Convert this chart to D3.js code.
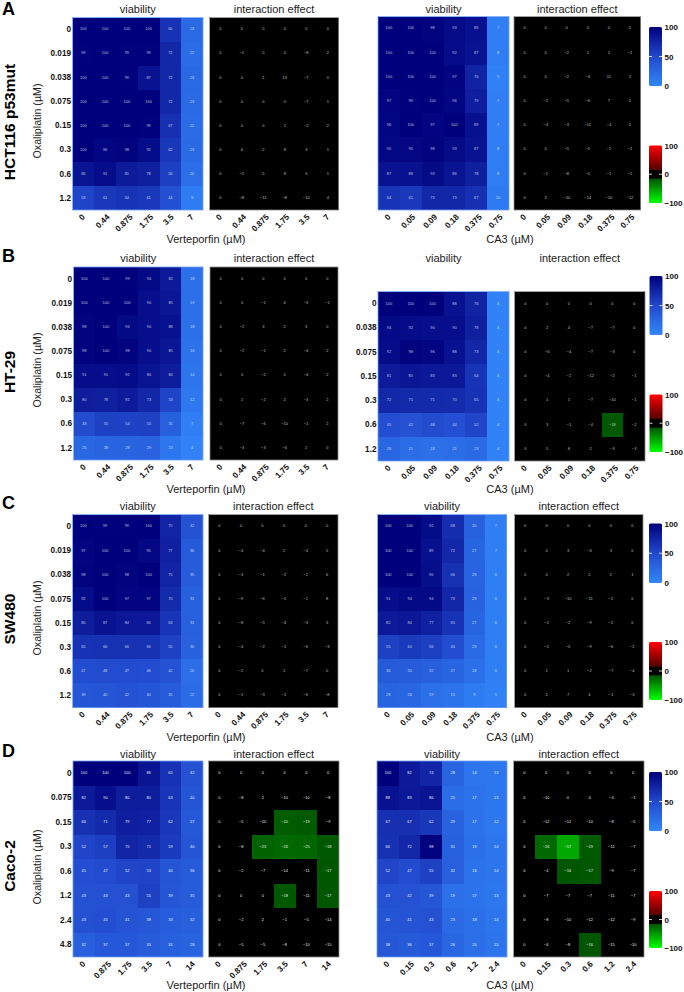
<!DOCTYPE html>
<html>
<head>
<meta charset="utf-8">
<script src="https://cdnjs.cloudflare.com/ajax/libs/d3/7.8.5/d3.min.js"></script>
<style>
  body { margin: 0; background: #fff; }
  svg { display: block; font-family: "Liberation Sans", Arial, sans-serif; }
</style>
</head>
<body>
<svg id="chart" width="684" height="992"></svg>
<script>
// concentrations
const oxaliA = ["0", "0.019", "0.038", "0.075", "0.15", "0.3", "0.6", "1.2"];
const oxaliB = ["0", "0.038", "0.075", "0.15", "0.3", "0.6", "1.2"];
const oxaliD = ["0", "0.075", "0.15", "0.3", "0.6", "1.2", "2.4", "4.8"];
const verte = ["0", "0.44", "0.875", "1.75", "3.5", "7"];
const verteD = ["0", "0.875", "1.75", "3.5", "7", "14"];
const ca3 = ["0", "0.05", "0.09", "0.18", "0.375", "0.75"];
const ca3D = ["0", "0.15", "0.3", "0.6", "1.2", "2.4"];

// HCT116 p53mut
const hctVerteViab = [
  [100, 100, 100, 100, 65, 24], [99, 100, 99, 99, 72, 22], [100, 100, 99, 87, 72, 24], [100, 100, 100, 100, 72, 23],
  [100, 100, 100, 99, 67, 22], [100, 96, 98, 92, 62, 23], [86, 91, 81, 78, 56, 20], [53, 61, 64, 61, 44, 9]];
const hctVerteInt = [
  [0, 0, 0, 0, 0, 0], [0, -1, 0, 0, -8, 2], [0, 0, 1, 13, -7, 0], [0, 0, 0, 0, -7, 1],
  [0, 0, 0, 1, -2, 2], [0, 4, 2, 8, 3, 1], [0, -5, 5, 8, 0, 1], [0, -8, -11, -8, -10, 4]];
const hctCa3Viab = [
  [100, 100, 98, 93, 89, 7], [100, 100, 100, 92, 87, 8], [100, 100, 100, 97, 76, 5], [97, 99, 100, 96, 79, 7],
  [96, 100, 97, 100, 89, 7], [95, 95, 98, 93, 87, 8], [87, 88, 93, 86, 78, 8], [64, 61, 73, 73, 67, 10]];
const hctCa3Int = [
  [0, 0, 0, 0, 0, 0], [0, 0, -2, 1, 2, -1], [0, 0, -2, -4, 11, 2], [0, -2, -5, -6, 7, 0],
  [0, -4, -3, -11, -4, 0], [0, 0, -5, -5, -2, -1], [0, -1, -8, -5, -1, -2], [0, 3, -10, -14, -10, -12]];

// HT-29
const htVerteViab = [
  [100, 100, 99, 94, 82, 18], [100, 100, 100, 90, 85, 19], [98, 100, 94, 90, 88, 18], [98, 100, 98, 90, 85, 16],
  [91, 91, 92, 86, 80, 14], [80, 78, 81, 73, 53, 12], [48, 55, 54, 55, 31, 7], [25, 28, 28, 29, 13, 4]];
const htVerteInt = [
  [0, 0, 0, 0, 0, 0], [0, 0, -1, 4, -3, -1], [0, -2, 3, 2, 3, 0], [0, -2, -1, 2, -4, 2],
  [0, 0, -2, 0, -4, 2], [0, 2, -2, 2, -3, 2], [0, -7, -6, -10, -1, 2], [0, -3, -3, -6, 2, 0]];
const htCa3Viab = [
  [100, 100, 100, 88, 76, 4], [94, 92, 90, 90, 78, 4], [92, 98, 96, 88, 73, 4], [81, 85, 83, 83, 64, 4],
  [72, 71, 71, 70, 65, 4], [45, 42, 48, 44, 52, 4], [26, 21, 18, 21, 23, 4]];
const htCa3Int = [
  [0, 0, 0, 0, 0, 0], [0, 2, 4, -7, -7, 0], [0, -6, -4, -7, -3, 0], [0, -4, -2, -12, -2, -1],
  [0, 1, 1, -7, -10, -1], [0, 3, -1, -4, -18, -2], [0, 5, 8, 2, -3, -3]];

// SW480
const swVerteViab = [
  [100, 99, 99, 100, 75, 42], [97, 100, 100, 95, 77, 36], [98, 100, 98, 100, 75, 35], [92, 100, 97, 97, 70, 31],
  [80, 87, 84, 84, 63, 31], [65, 66, 66, 66, 55, 30], [47, 48, 47, 46, 42, 20], [39, 40, 42, 40, 35, 22]];
const swVerteInt = [
  [0, 0, 0, 0, 0, 0], [0, -4, -4, 2, -4, 5], [0, -3, -1, -2, -2, 6], [0, -9, -6, -5, -1, 8],
  [0, -8, -5, -4, -3, 3], [0, -4, -2, -1, -6, -3], [0, -2, 0, 1, -7, 0], [0, -1, -3, -1, -6, -8]];
const swCa3Viab = [
  [100, 100, 92, 68, 30, 7], [100, 100, 89, 72, 27, 7], [100, 100, 90, 66, 28, 6], [91, 94, 94, 73, 29, 6],
  [82, 84, 77, 65, 27, 6], [55, 60, 56, 46, 23, 6], [36, 35, 32, 27, 18, 6], [28, 26, 19, 15, 9, 5]];
const swCa3Int = [
  [0, 0, 0, 0, 0, 0], [0, 0, 3, -4, 3, 0], [0, 0, 2, 2, 2, 1], [0, -3, -10, -11, -2, 0],
  [0, -2, -2, -9, -2, 0], [0, -5, -5, -9, -6, -2], [0, 1, 1, -2, -7, -4], [0, 2, 7, 4, -1, -3]];

// Caco-2
const cacoVerteViab = [
  [100, 100, 100, 86, 65, 42], [82, 90, 80, 80, 63, 40], [66, 71, 79, 77, 62, 37], [52, 57, 75, 71, 59, 40],
  [45, 47, 52, 53, 40, 36], [43, 43, 43, 55, 39, 35], [43, 45, 41, 38, 33, 32], [32, 37, 37, 35, 31, 28]];
const cacoVerteInt = [
  [0, 0, 0, 0, 0, 0], [0, -8, 2, -10, -10, -8], [0, -5, -10, -20, -19, -9], [0, -8, -23, -26, -25, -18],
  [0, -2, -7, -14, -11, -17], [0, 0, 0, -18, -11, -17], [0, -2, 2, -1, -5, -14], [0, -5, -5, -8, -10, -15]];
const cacoCa3Viab = [
  [100, 82, 74, 28, 14, 13], [88, 83, 86, 21, 17, 13], [67, 67, 62, 29, 17, 12], [66, 72, 98, 31, 19, 14],
  [52, 47, 55, 32, 16, 14], [43, 42, 39, 19, 17, 13], [40, 41, 43, 23, 18, 14], [38, 36, 37, 26, 20, 15]];
const cacoCa3Int = [
  [0, 0, 0, 0, 0, 0], [0, -10, 0, 4, -4, -1], [0, -12, -12, -10, -8, -5], [0, -26, -57, -19, -11, -7],
  [0, -4, -16, -17, -9, -7], [0, -7, -7, -7, -11, -7], [0, -8, -10, -12, -12, -9], [0, -6, -8, -16, -15, -10]];

const viabColor = d3.scaleLinear().domain([0, 50, 100]).range(["#3187fa", "#2148cc", "#00007c"]);
const intColor = d3.scaleLinear()
  .domain([-100, -15.5, -15.4, 15.4, 15.5, 100])
  .range(["#00ff00", "#005400", "#000000", "#000000", "#540000", "#ff0000"]);

const svg = d3.select("#chart");

function heatmap(box, rows, cols, values, color, opts) {
  const x = d3.scaleBand().domain(cols).range([box[0], box[1]]);
  const y = d3.scaleBand().domain(rows).range([box[2], box[3]]);
  const g = svg.append("g");

  const cells = [];
  values.forEach((row, i) => row.forEach((v, j) => cells.push({ r: rows[i], c: cols[j], v: v })));

  g.selectAll("rect.cell")
    .data(cells)
    .enter().append("rect")
    .attr("class", "cell")
    .attr("x", d => x(d.c))
    .attr("y", d => y(d.r))
    .attr("width", x.bandwidth())
    .attr("height", y.bandwidth())
    .attr("fill", d => color(d.v))
    .attr("shape-rendering", "crispEdges");

  g.selectAll("text.val")
    .data(cells)
    .enter().append("text")
    .attr("class", "val")
    .attr("x", d => x(d.c) + x.bandwidth() / 2)
    .attr("y", d => y(d.r) + y.bandwidth() / 2 - 0.5)
    .attr("dy", "0.35em")
    .attr("text-anchor", "middle")
    .attr("font-size", 4)
    .attr("fill", "#fff")
    .attr("fill-opacity", opts.bright ? 0.95 : 0.72)
    .text(d => String(d.v).replace("-", "\u2212"));

  g.append("rect")
    .attr("x", box[0])
    .attr("y", box[2])
    .attr("width", box[1] - box[0])
    .attr("height", box[3] - box[2])
    .attr("fill", "none")
    .attr("stroke", opts.frame)
    .attr("stroke-width", 0.8);

  const xAxis = g.append("g")
    .attr("transform", `translate(0,${box[3]})`)
    .call(d3.axisBottom(x).tickSize(0).tickPadding(0));
  xAxis.select(".domain").remove();
  xAxis.selectAll("text")
    .attr("font-size", 8.2)
    .attr("font-weight", "bold")
    .attr("font-family", "Liberation Sans")
    .attr("fill", "#111")
    .attr("text-anchor", "middle")
    .attr("y", 0)
    .attr("dy", "0.35em")
    .attr("transform", function () {
      // longer labels sit lower and slightly left, tops stay level
      const w = this.getComputedTextLength();
      return `translate(${-1 - 0.1 * w},${5.5 + 0.35 * w}) rotate(-45)`;
    });

  if (opts.yLabels) {
    const yAxis = g.append("g")
      .attr("transform", `translate(${box[0]},0)`)
      .call(d3.axisLeft(y).tickSize(0).tickPadding(1.5));
    yAxis.select(".domain").remove();
    yAxis.selectAll("text")
      .attr("font-size", 8.2)
      .attr("font-weight", "bold")
      .attr("font-family", "Liberation Sans")
      .attr("fill", "#111");
  }

  g.append("text")
    .attr("x", opts.titleX)
    .attr("y", opts.titleY)
    .attr("text-anchor", "middle")
    .attr("font-size", 11)
    .attr("fill", "#222")
    .text(opts.title);
}

function label(x, y, text, size, weight, rotate) {
  svg.append("text")
    .attr("transform", `translate(${x},${y})` + (rotate ? " rotate(-90)" : ""))
    .attr("text-anchor", rotate ? "middle" : "start")
    .attr("font-size", size)
    .attr("font-weight", weight)
    .attr("fill", weight === "bold" ? "#000" : "#222")
    .text(text);
}

let gradId = 0;
function colorbar(x0, x1, y0, y1, color, ticks) {
  const id = "grad" + gradId++;
  const dom = [ticks[0], ticks[ticks.length - 1]];
  const grad = svg.append("defs").append("linearGradient")
    .attr("id", id).attr("x1", 0).attr("x2", 0).attr("y1", 1).attr("y2", 0);
  d3.range(0, 1.001, 0.01).forEach(t => {
    grad.append("stop")
      .attr("offset", t)
      .attr("stop-color", color(dom[0] + t * (dom[1] - dom[0])));
  });
  const y = d3.scaleLinear().domain(dom).range([y1, y0]);
  svg.append("rect")
    .attr("x", x0).attr("y", y0)
    .attr("width", x1 - x0).attr("height", y1 - y0)
    .attr("rx", 1.5)
    .attr("fill", `url(#${id})`);
  const axis = svg.append("g")
    .attr("transform", `translate(${x1},0)`)
    .call(d3.axisRight(y).tickValues(ticks).tickSize(0).tickPadding(2.5).tickFormat(d3.format("d")));
  axis.select(".domain").remove();
  axis.selectAll("text")
    .attr("font-size", 8)
    .attr("font-weight", "bold")
    .attr("font-family", "Liberation Sans")
    .attr("fill", "#111");
  // little white notch either side at the middle tick
  const mid = ticks[1];
  [[x0, x0 + 3], [x1 - 3, x1]].forEach(p => {
    svg.append("line")
      .attr("x1", p[0]).attr("x2", p[1])
      .attr("y1", y(mid)).attr("y2", y(mid))
      .attr("stroke", "#fff").attr("stroke-width", 0.8);
  });
}

const groups = [
  {
    letter: "A", letterY: 15, name: "HCT116 p53mut", nameY: 122, oxaliY: 121, titleY: 13, axisY: 243,
    left: { rows: oxaliA, cols: verte, viab: hctVerteViab, int: hctVerteInt, v: [72.5, 203, 17.5, 210], i: [209.5, 338.5, 17.5, 210] },
    right: { rows: oxaliA, cols: ca3, viab: hctCa3Viab, int: hctCa3Int, v: [378, 509, 16.5, 210], i: [514, 640.5, 16.5, 210], yLabels: false },
    bars: [[649, 662, 27, 86], [649, 662, 145.5, 203]]
  },
  {
    letter: "B", letterY: 262, name: "HT-29", nameY: 372, oxaliY: 370, titleY: 262, axisY: 492.5,
    left: { rows: oxaliA, cols: verte, viab: htVerteViab, int: htVerteInt, v: [73.5, 203, 267, 460], i: [210, 338, 267, 460] },
    right: { rows: oxaliB, cols: ca3, viab: htCa3Viab, int: htCa3Int, v: [378, 509, 291.5, 461], i: [514.5, 645, 291.5, 461], yLabels: true },
    bars: [[649.5, 662.5, 276, 335], [649.5, 662.5, 394.5, 452]]
  },
  {
    letter: "C", letterY: 509, name: "SW480", nameY: 619, oxaliY: 618, titleY: 509.5, axisY: 740.5,
    left: { rows: oxaliA, cols: verte, viab: swVerteViab, int: swVerteInt, v: [72.5, 203, 514.5, 707.5], i: [208.5, 338, 514.5, 707.5] },
    right: { rows: oxaliA, cols: ca3, viab: swCa3Viab, int: swCa3Int, v: [377.5, 506.5, 514.5, 707.5], i: [514.5, 643, 514.5, 707.5], yLabels: false },
    bars: [[649, 662, 523.5, 583], [649, 662, 642, 700]]
  },
  {
    letter: "D", letterY: 757, name: "Caco-2", nameY: 866, oxaliY: 867, titleY: 758, axisY: 988.5, bright: true,
    left: { rows: oxaliD, cols: verteD, viab: cacoVerteViab, int: cacoVerteInt, v: [73, 203, 761, 957], i: [208.5, 339, 761, 957] },
    right: { rows: oxaliD, cols: ca3D, viab: cacoCa3Viab, int: cacoCa3Int, v: [377, 507, 761, 957], i: [513.5, 644, 761, 957], yLabels: false },
    bars: [[649, 662, 772, 831], [649, 662, 891, 948]]
  }
];

groups.forEach(g => {
  label(2, g.letterY, g.letter, 18, "bold", false);
  label(15, g.nameY, g.name, 15.5, "bold", true);
  label(41, g.oxaliY, "Oxaliplatin (\u00b5M)", 10.7, "normal", true);

  [g.left, g.right].forEach((p, idx) => {
    const isLeft = idx === 0;
    heatmap(p.v, p.rows, p.cols, p.viab, viabColor, {
      title: "viability", titleX: (p.v[0] + p.v[1]) / 2, titleY: g.titleY,
      frame: "#6f9ff5", yLabels: isLeft || p.yLabels, bright: g.bright
    });
    heatmap(p.i, p.rows, p.cols, p.int, intColor, {
      title: "interaction effect", titleX: (p.i[0] + p.i[1]) / 2, titleY: g.titleY,
      frame: "#8a8a8a", yLabels: false, bright: g.bright
    });
    svg.append("text")
      .attr("x", isLeft ? 206 : 510)
      .attr("y", g.axisY)
      .attr("text-anchor", "middle")
      .attr("font-size", 11)
      .attr("fill", "#222")
      .text(isLeft ? "Verteporfin (\u00b5M)" : "CA3 (\u00b5M)");
  });

  colorbar(...g.bars[0], viabColor, [0, 50, 100]);
  colorbar(...g.bars[1], intColor, [-100, 0, 100]);
});
</script>
</body>
</html>
